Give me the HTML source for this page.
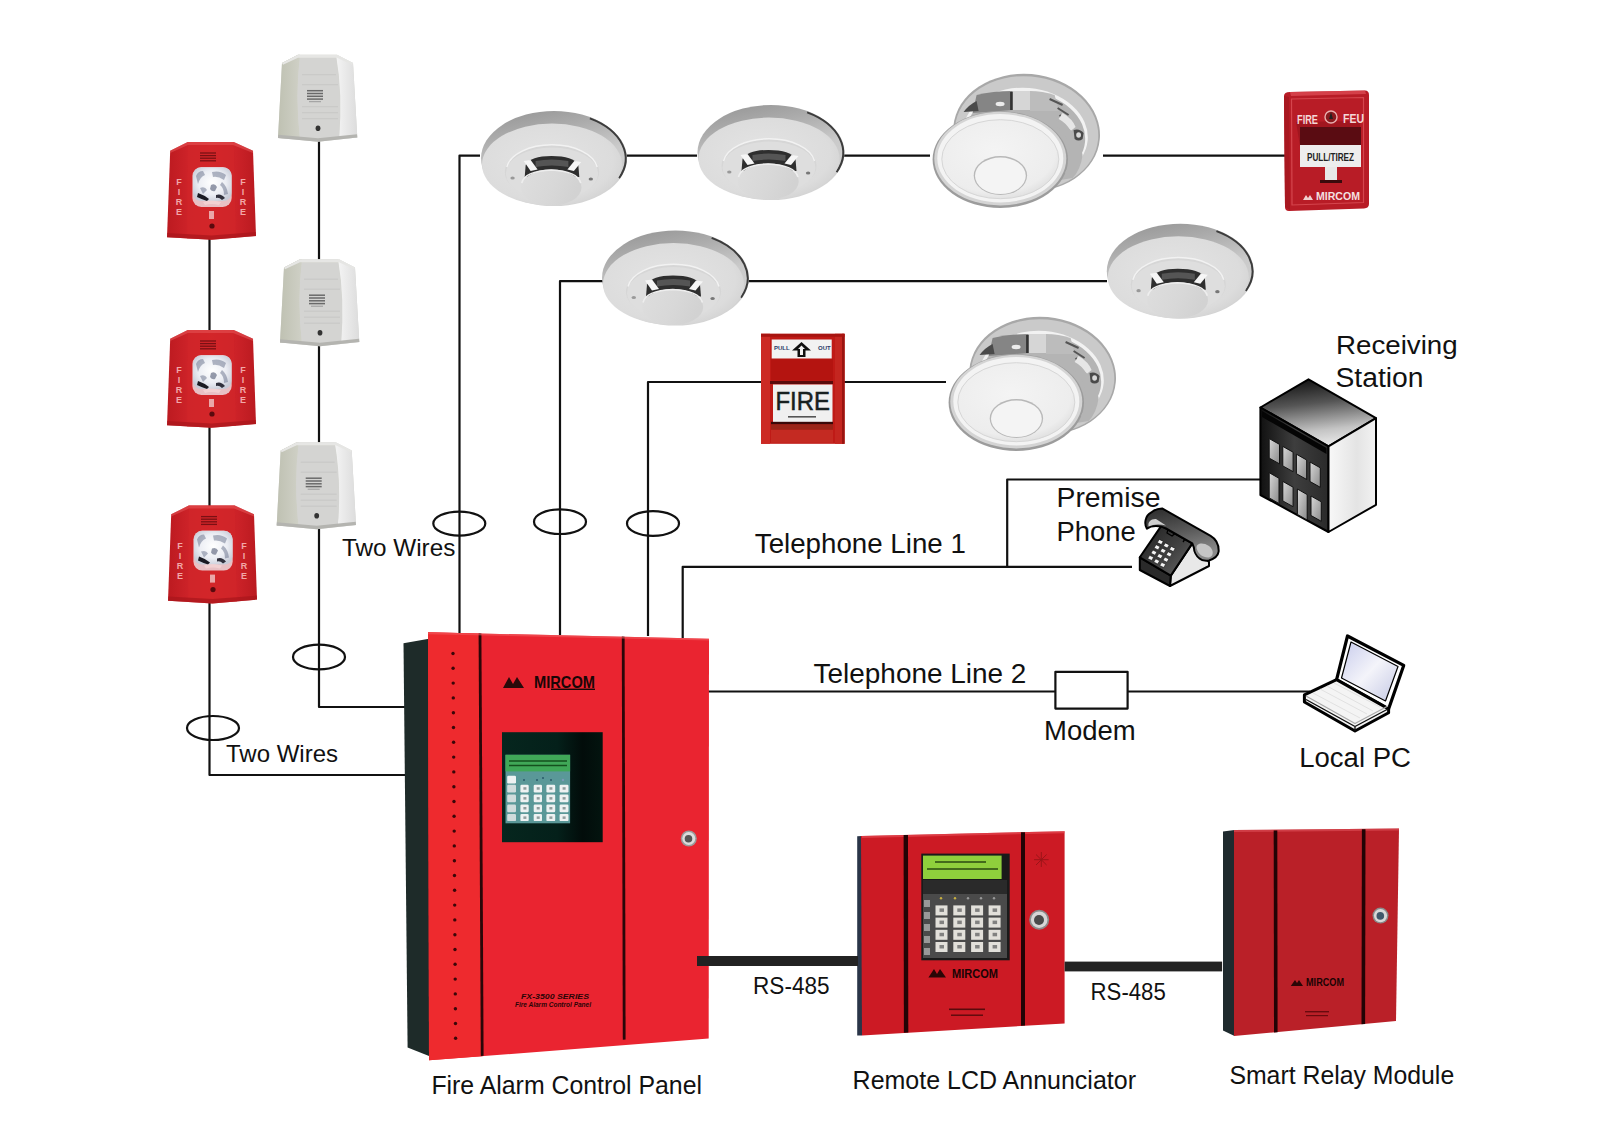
<!DOCTYPE html>
<html><head><meta charset="utf-8"><title>Fire Alarm System</title>
<style>
html,body{margin:0;padding:0;background:#fff;width:1600px;height:1131px;overflow:hidden}
svg{display:block}
text{font-family:"Liberation Sans",sans-serif}
</style></head><body>
<svg width="1600" height="1131" viewBox="0 0 1600 1131">
<defs>
<linearGradient id="gDetRim" x1="0" y1="0" x2="0.3" y2="1">
 <stop offset="0" stop-color="#929292"/><stop offset="0.3" stop-color="#acacac"/><stop offset="0.6" stop-color="#cacaca"/><stop offset="1" stop-color="#d4d4d4"/>
</linearGradient>
<radialGradient id="gDetFace" cx="0.45" cy="0.45" r="0.65">
 <stop offset="0" stop-color="#e4e4e4"/><stop offset="0.75" stop-color="#dcdcdc"/><stop offset="1" stop-color="#cfcfcf"/>
</radialGradient>
<linearGradient id="gDetCap" x1="0" y1="0" x2="1" y2="0.3">
 <stop offset="0" stop-color="#dedede"/><stop offset="0.6" stop-color="#d8d8d8"/><stop offset="1" stop-color="#d2d2d2"/>
</linearGradient>
<g id="detA">
 <ellipse cx="73.5" cy="47.5" rx="73.5" ry="47.5" fill="url(#gDetRim)"/>
 <path d="M109.65 7.4 A72.5 46.5 0 0 1 139 67.1" fill="none" stroke="#3c3c3c" stroke-width="2"/>
 <ellipse cx="71.5" cy="53.6" rx="70.5" ry="41" fill="url(#gDetFace)"/>
 <ellipse cx="71.5" cy="61" rx="47.5" ry="27" fill="#d6d6d6"/>
 <ellipse cx="71.5" cy="62.5" rx="46.5" ry="26" fill="#dedede"/>
 <path d="M26 56 A46 26 0 0 1 117 56" fill="none" stroke="#f2f2f2" stroke-width="1.5"/>
 <path d="M44 66 L45 54 Q50 45 71 45 Q93 45 98 54 L99 66 Z" fill="#2e2e2e"/>
 <path d="M55 50 Q71 47 88 50 L88 56 Q71 53 55 56Z" fill="#555"/>
 <path d="M43 50 L50 49 L57 58.5 L50 60Z" fill="#f6f6f6"/>
 <path d="M101 51 L94 50 L87 58.5 L93.5 60Z" fill="#f6f6f6"/>
 <ellipse cx="70.7" cy="76.5" rx="30.5" ry="18" fill="url(#gDetCap)"/>
 <path d="M41 72 Q44 60 70.7 59 Q97 60 100.5 72" fill="none" stroke="#eeeeee" stroke-width="1.6"/>
 <ellipse cx="31.8" cy="67" rx="2.2" ry="1.6" fill="#999"/>
 <ellipse cx="110.6" cy="68" rx="2.2" ry="1.6" fill="#777"/>
</g>
<radialGradient id="gCover" cx="0.45" cy="0.4" r="0.65">
 <stop offset="0" stop-color="#f4f4f4"/><stop offset="0.8" stop-color="#ededed"/><stop offset="1" stop-color="#dcdcdc"/>
</radialGradient>
<linearGradient id="gPlate" x1="0" y1="0" x2="1" y2="1">
 <stop offset="0" stop-color="#b2b2b2"/><stop offset="1" stop-color="#cfcfcf"/>
</linearGradient>
<g id="detB">
 <g transform="rotate(5 94 57.7)">
 <ellipse cx="94" cy="57.7" rx="73.5" ry="58.8" fill="#a8a8a8"/>
 <ellipse cx="94" cy="58.3" rx="71.8" ry="57" fill="#cacaca"/>
 <ellipse cx="93" cy="60" rx="62.5" ry="47" fill="#f2f2f2"/>
 <ellipse cx="93" cy="61.5" rx="60" ry="45" fill="#b4b4b4"/>
 </g>
 <path d="M44 20 Q60 16 80 16 L80 35 L40 38Z" fill="#858585"/>
 <path d="M31 37 Q36 30 44 26 L46 36Z" fill="#4a4a4a"/>
 <ellipse cx="67.5" cy="29" rx="4.5" ry="2.2" fill="#ececec"/>
 <rect x="77.5" y="17" width="2.5" height="18" fill="#333"/>
 <path d="M80.4 16 L97.4 16 L97.4 35 L80.4 35Z" fill="#d6d6d6"/>
 <path d="M97.4 16 Q110 16 122 20 L126 36 L97.4 36Z" fill="#bcbcbc"/>
 <path d="M117 24 L130 30 M125 33 L136 40 M127 40 L132 45" stroke="#555" stroke-width="2" fill="none"/>
 <path d="M130 38 Q140 44 143 52 L138 56 Q134 48 126 44Z" fill="#e6e6e6"/>
 <path d="M124 45 Q145 55 150 80 Q148 95 140 103 L128 105 Q140 90 136 70 Q132 55 122 50Z" fill="#b4b4b4"/>
 <path d="M141 55 Q147 53 151 58 L150 64 Q146 67 142 64Z" fill="#4a4a4a"/>
 <ellipse cx="146" cy="60" rx="2.4" ry="2.8" fill="#d8d8d8"/>
 <ellipse cx="67.7" cy="84.6" rx="67.7" ry="48.4" fill="#9c9c9c"/>
 <ellipse cx="67.7" cy="83.6" rx="66" ry="46.8" fill="#d4d4d4"/>
 <ellipse cx="67.7" cy="83.2" rx="63" ry="44.2" fill="#f3f3f3"/>
 <ellipse cx="67.7" cy="84.2" rx="58.5" ry="39.5" fill="url(#gCover)" stroke="#d6d6d6" stroke-width="1"/>
 <ellipse cx="67.8" cy="100.5" rx="26.7" ry="19.5" fill="#b8b8b8"/>
 <ellipse cx="67.8" cy="100.8" rx="25.4" ry="18.3" fill="#f4f4f4"/>
</g>
<radialGradient id="gLens" cx="0.5" cy="0.45" r="0.6">
 <stop offset="0" stop-color="#ffffff"/><stop offset="0.6" stop-color="#eceef4"/><stop offset="1" stop-color="#c8ccd8"/>
</radialGradient>
<linearGradient id="gStrobe" x1="0" y1="0" x2="1" y2="0">
 <stop offset="0" stop-color="#bc1a20"/><stop offset="0.22" stop-color="#cc2228"/><stop offset="0.5" stop-color="#d4262a"/><stop offset="0.78" stop-color="#cc2228"/><stop offset="1" stop-color="#ba1a20"/>
</linearGradient>
<g id="strobe">
 <path d="M20.7 0 L66.8 0 L86 8.7 L89 94 L44.5 97.8 L0 95.2 L3.2 8.7Z" fill="url(#gStrobe)"/>
 <path d="M20.7 0 L66.8 0 L69 96 L20 96.5Z" fill="#d2262a" opacity="0.6"/>
 <path d="M3.2 8.7 L20.7 0 L66.8 0 L86 8.7 L86 11 L66 3 L21 3 L3.2 11Z" fill="#e85a5c" opacity="0.5"/>
 <path d="M0 95.2 L44.5 97.8 L89 94 L88.8 90 L44.5 93.5 L0.2 91Z" fill="#a8161b" opacity="0.7"/>
 <g stroke="#7a1014" stroke-width="1.3">
  <line x1="33" y1="11" x2="49" y2="11"/><line x1="33" y1="13.6" x2="49" y2="13.6"/><line x1="33" y1="16.2" x2="49" y2="16.2"/><line x1="33" y1="18.8" x2="49" y2="18.8"/>
 </g>
 <rect x="25.4" y="25" width="39.3" height="40" rx="9" fill="#e8c0c4"/>
 <rect x="26" y="25.5" width="38.5" height="33.5" rx="8" fill="url(#gLens)"/>
 <g fill="#5a6480" opacity="0.45">
  <path d="M29 34 Q31 29 36 29 L38 33 Q33 35 31 42Z"/>
  <path d="M45 30 Q53 28 59 33 L57 38 Q51 34 46 35Z"/>
  <path d="M55 40 Q60 44 61 52 L57 53 Q57 46 53 43Z"/>
  <path d="M33 46 Q38 44 40 48 L36 52Z"/>
 </g>
 <path d="M31 51 Q37 53 42 57 L40 59 Q34 57 30 55Z" fill="#1a1a22"/>
 <path d="M44 43 Q48 41 50 45 L48 49 Q45 50 43 47Z" fill="#6a7088" opacity="0.7"/>
 <path d="M49 53 Q54 51 58 56 L55 58 Q52 55 49 56Z" fill="#30303c"/>
 <path d="M36 60 Q44 57 54 60 L52 63 Q44 61 38 63Z" fill="#f4d4d6" opacity="0.8"/>
 <g fill="#f2a8a8" font-size="9" font-weight="bold" text-anchor="middle" style="font-family:'Liberation Sans',sans-serif">
  <text x="12" y="43">F</text><text x="12" y="53">I</text><text x="12" y="63">R</text><text x="12" y="73">E</text>
  <text x="76" y="43">F</text><text x="76" y="53">I</text><text x="76" y="63">R</text><text x="76" y="73">E</text>
 </g>
 <rect x="42" y="69" width="5" height="8" fill="#f0c8c8" opacity="0.8"/>
 <circle cx="45" cy="84" r="2.6" fill="#5a0a0e"/>
</g>
<linearGradient id="gHornL" x1="0" y1="0" x2="1" y2="0"><stop offset="0" stop-color="#bfc1b2"/><stop offset="1" stop-color="#cfd0c6"/></linearGradient>
<linearGradient id="gHornR" x1="0" y1="0" x2="1" y2="0"><stop offset="0" stop-color="#f4f4f4"/><stop offset="0.5" stop-color="#e8e8e8"/><stop offset="1" stop-color="#dcdcdc"/></linearGradient>
<g id="horn">
 <path d="M20 0 L59 0 L75 8.3 L79.3 82.7 L40 87 L0 83.2 L4 8.3Z" fill="#d4d5d0"/>
 <path d="M4 8.3 L20 0 L22 0 Q17 40 22 84.5 L0 83.2Z" fill="url(#gHornL)"/>
 <path d="M58 0 L75 8.3 L79.3 82.7 L61 84.5 Q65 40 58 0Z" fill="url(#gHornR)"/>
 <path d="M22 3 L58 3 Q64 40 61 84 L22 85 Q17 40 22 3Z" fill="#d4d4d2"/>
 <path d="M4 8.3 L20 0 L59 0 L75 8.3 L74 10 L59 3 L20 3 L5 10Z" fill="#e6e6e4"/>
 <path d="M0 83.2 L40 87 L79.3 82.7 L79 79.5 L40 83.5 L0.2 80Z" fill="#b4b4b0"/>
 <g stroke="#6a6a6a" stroke-width="1.5">
  <line x1="29" y1="36" x2="45" y2="36"/><line x1="29" y1="38.8" x2="45" y2="38.8"/><line x1="29" y1="41.6" x2="45" y2="41.6"/><line x1="29" y1="44.4" x2="45" y2="44.4"/>
 </g>
 <line x1="31" y1="47" x2="43" y2="47" stroke="#9a9a9a" stroke-width="1"/>
 <g stroke="#c4c4c2" stroke-width="0.8"><line x1="24" y1="20" x2="58" y2="20"/><line x1="24" y1="30" x2="60" y2="30"/><line x1="24" y1="52" x2="60" y2="52"/><line x1="24" y1="58" x2="60" y2="58"/><line x1="24" y1="64" x2="60" y2="64"/></g>
 <ellipse cx="40" cy="73.5" rx="2.4" ry="2.8" fill="#333"/>
</g>

</defs>
<rect width="1600" height="1131" fill="#fff"/>
<!-- WIRES -->
<g fill="none" stroke="#111" stroke-width="2.2" stroke-linejoin="round">
<path d="M209.5 239 V775 H405"/>
<path d="M319 141 V707 H405"/>
<path d="M459.5 634 V155.6 H480"/>
<path d="M626 155.6 H697"/>
<path d="M843 155.6 H930"/>
<path d="M1103 155.6 H1285"/>
<path d="M560 635 V281.2 H603"/>
<path d="M748 281.2 H1107"/>
<path d="M648 636 V382 H762"/>
<path d="M843 382 H946"/>
<path d="M682.7 638 V566.8 H1132"/>
<path d="M1007.2 566.8 V479.5 H1262"/>
<path d="M708 691.5 H1055"/>
<path d="M1128 691.5 H1310"/>
<rect x="1055.4" y="671.8" width="72.2" height="36.8"/>
<ellipse cx="213" cy="728" rx="26" ry="12"/>
<ellipse cx="319" cy="657" rx="26" ry="12.3"/>
<ellipse cx="459.3" cy="523.6" rx="26" ry="12"/>
<ellipse cx="560" cy="521.7" rx="26" ry="12.3"/>
<ellipse cx="653" cy="523.5" rx="26" ry="12.3"/>
</g>

<use href="#detA" transform="translate(481 111) scale(0.993 1)"/>
<use href="#detA" transform="translate(697.5 105)"/>
<use href="#detA" transform="translate(602 230.5)"/>
<use href="#detA" transform="translate(1106.8 223.7)"/>
<use href="#detB" transform="translate(932.6 75)"/>
<use href="#detB" transform="translate(948.6 318)"/>
<use href="#strobe" transform="translate(167 142)"/>
<use href="#strobe" transform="translate(167 330)"/>
<use href="#strobe" transform="translate(168 505.6)"/>
<use href="#horn" transform="translate(278 54.7)"/>
<use href="#horn" transform="translate(280 259.2)"/>
<use href="#horn" transform="translate(276.7 442.2)"/>
<!-- FIRE ALARM CONTROL PANEL -->
<g id="facp">
 <path d="M403.5 643.3 L429 638.7 L429 1056 L407.6 1047.6Z" fill="#1e2b29"/>
 <path d="M428 632.3 L709 638.7 L708.7 1038.5 L429 1060.3Z" fill="#ea2430"/>
 <path d="M428 632.3 L480 633.5 L482.5 1056.2 L429 1060.3Z" fill="#ee2a2e"/>
 <path d="M478.6 633.4 L481.4 633.4 L483.6 1055.8 L480.8 1056Z" fill="#2a0608"/>
 <path d="M621.8 636.6 L624.6 636.7 L625.6 1039.6 L622.8 1039.8Z" fill="#2a0608"/>
 <path d="M428 632.3 L709 638.7 L709 640.5 L428 634.2Z" fill="#f25a5e" opacity="0.6"/>
 <g fill="#3a0608">
 <circle cx="453" cy="653.5" r="1.7"/><circle cx="453.1" cy="668.3" r="1.7"/><circle cx="453.2" cy="683.1" r="1.7"/><circle cx="453.3" cy="697.9" r="1.7"/><circle cx="453.4" cy="712.7" r="1.7"/><circle cx="453.5" cy="727.5" r="1.7"/><circle cx="453.6" cy="742.3" r="1.7"/><circle cx="453.7" cy="757.1" r="1.7"/><circle cx="453.8" cy="771.9" r="1.7"/><circle cx="453.9" cy="786.7" r="1.7"/><circle cx="454" cy="801.5" r="1.7"/><circle cx="454.1" cy="816.3" r="1.7"/><circle cx="454.2" cy="831.1" r="1.7"/><circle cx="454.3" cy="845.9" r="1.7"/><circle cx="454.4" cy="860.7" r="1.7"/><circle cx="454.5" cy="875.5" r="1.7"/><circle cx="454.6" cy="890.3" r="1.7"/><circle cx="454.7" cy="905.1" r="1.7"/><circle cx="454.8" cy="919.9" r="1.7"/><circle cx="454.9" cy="934.7" r="1.7"/><circle cx="455" cy="949.5" r="1.7"/><circle cx="455.1" cy="964.3" r="1.7"/><circle cx="455.2" cy="979.1" r="1.7"/><circle cx="455.3" cy="993.9" r="1.7"/><circle cx="455.4" cy="1008.7" r="1.7"/><circle cx="455.5" cy="1023.5" r="1.7"/><circle cx="455.6" cy="1038.3" r="1.7"/>
 </g>
 <!-- logo -->
 <path d="M503 688 L509 677 L513 684 L517 677 L524 688Z" fill="#2a0a0a"/>
 <text x="534" y="688" font-size="17" font-weight="bold" textLength="61" lengthAdjust="spacingAndGlyphs" fill="#1a0606">MIRCOM</text>
 <rect x="551" y="688.6" width="44" height="1.4" fill="#1a0606"/>
 <!-- display -->
 <linearGradient id="gWinP" x1="0" y1="0" x2="1" y2="0"><stop offset="0" stop-color="#06261e"/><stop offset="0.55" stop-color="#04201a"/><stop offset="0.8" stop-color="#020c0a"/><stop offset="1" stop-color="#03140f"/></linearGradient>
 <rect x="502" y="732.2" width="100.7" height="110" fill="url(#gWinP)"/>
 <rect x="505.5" y="754.8" width="64.6" height="68.5" fill="#5a9898"/>
 <rect x="505.5" y="754.8" width="64.6" height="16.6" fill="#40a858"/>
 <g stroke="#15501e" stroke-width="1.6"><line x1="509" y1="761" x2="567" y2="761"/><line x1="509" y1="765.5" x2="567" y2="765.5"/></g>
 <g fill="#eef2f2">
  <rect x="507.2" y="775.8" width="8.8" height="7.7" rx="1.2"/>
  <rect x="520.4" y="784.7" width="8.3" height="7.7" rx="1.2"/><rect x="533.7" y="784.7" width="8.3" height="7.7" rx="1.2"/><rect x="546.4" y="784.7" width="8.8" height="7.7" rx="1.2"/><rect x="559.6" y="784.7" width="8.9" height="7.7" rx="1.2"/>
  <rect x="520.4" y="794.6" width="8.3" height="7.7" rx="1.2"/><rect x="533.7" y="794.6" width="8.3" height="7.7" rx="1.2"/><rect x="546.4" y="794.6" width="8.8" height="7.7" rx="1.2"/><rect x="559.6" y="794.6" width="8.9" height="7.7" rx="1.2"/>
  <rect x="520.4" y="804.5" width="8.3" height="7.7" rx="1.2"/><rect x="533.7" y="804.5" width="8.3" height="7.7" rx="1.2"/><rect x="546.4" y="804.5" width="8.8" height="7.7" rx="1.2"/><rect x="559.6" y="804.5" width="8.9" height="7.7" rx="1.2"/>
  <rect x="520.4" y="813.9" width="8.3" height="7.2" rx="1.2"/><rect x="533.7" y="813.9" width="8.3" height="7.2" rx="1.2"/><rect x="546.4" y="813.9" width="8.8" height="7.2" rx="1.2"/><rect x="559.6" y="813.9" width="8.9" height="7.2" rx="1.2"/>
 </g>
 <g fill="#d0dcdc"><rect x="507.2" y="784.7" width="8.8" height="7.7" rx="1.2"/><rect x="507.2" y="794.6" width="8.8" height="7.7" rx="1.2"/><rect x="507.2" y="804.5" width="8.8" height="7.7" rx="1.2"/><rect x="507.2" y="813.9" width="8.8" height="7.2" rx="1.2"/></g>
 <g fill="#7a8a8a" opacity="0.8"><rect x="523.4" y="787.2" width="3" height="2.5"/><rect x="523.4" y="797.1" width="3" height="2.5"/><rect x="523.4" y="807.0" width="3" height="2.5"/><rect x="523.4" y="816.4" width="3" height="2.5"/><rect x="536.7" y="787.2" width="3" height="2.5"/><rect x="536.7" y="797.1" width="3" height="2.5"/><rect x="536.7" y="807.0" width="3" height="2.5"/><rect x="536.7" y="816.4" width="3" height="2.5"/><rect x="549.4" y="787.2" width="3" height="2.5"/><rect x="549.4" y="797.1" width="3" height="2.5"/><rect x="549.4" y="807.0" width="3" height="2.5"/><rect x="549.4" y="816.4" width="3" height="2.5"/><rect x="562.6" y="787.2" width="3" height="2.5"/><rect x="562.6" y="797.1" width="3" height="2.5"/><rect x="562.6" y="807.0" width="3" height="2.5"/><rect x="562.6" y="816.4" width="3" height="2.5"/></g>
 <g fill="#2a5a6a"><circle cx="524" cy="780" r="1"/><circle cx="537" cy="780" r="1"/><circle cx="543" cy="778" r="1"/><circle cx="551" cy="780" r="1"/><circle cx="563" cy="780" r="1.2" fill="#7a9ab8"/></g>
 <!-- lock -->
 <circle cx="688.8" cy="838.5" r="8" fill="#9a9a9a"/>
 <circle cx="688.8" cy="838.5" r="6.5" fill="#dcdcdc"/>
 <circle cx="688.5" cy="838.8" r="3.8" fill="#555"/>
 <!-- small text -->
 <text x="521" y="998.5" font-size="8" fill="#2a0406" textLength="68" lengthAdjust="spacingAndGlyphs" font-style="italic" font-weight="bold">FX-3500 SERIES</text>
 <text x="515" y="1006.5" font-size="6.5" fill="#2a0406" textLength="76" lengthAdjust="spacingAndGlyphs" font-style="italic" font-weight="bold">Fire Alarm Control Panel</text>
</g>
<!-- REMOTE LCD ANNUNCIATOR -->
<g id="ann">
 <path d="M857.2 836.3 L862 836 L862 1035.4 L857.2 1035.6Z" fill="#2a3548"/>
 <path d="M861 836 L1064.6 831.2 L1064.6 1023.4 L862 1035.4Z" fill="#cc1a24"/>
 <path d="M862 836 L1064.6 831.2 L1064.6 833.2 L862 838Z" fill="#e85058" opacity="0.6"/>
 <path d="M903.6 835 L908 835 L908.3 1032.6 L903.9 1032.8Z" fill="#220305"/>
 <path d="M1021 832.3 L1025 832.2 L1025 1025.6 L1021 1025.8Z" fill="#220305"/>
 <rect x="921.3" y="853.6" width="88.4" height="106.7" fill="#1a1a1a"/>
 <rect x="923" y="855.6" width="78.6" height="23.4" fill="#8fcf3c"/>
 <g stroke="#2a4a10" stroke-width="1.4"><line x1="935" y1="862" x2="986" y2="862"/><line x1="927" y1="869" x2="998" y2="869"/></g>
 <rect x="923" y="880" width="84" height="78" fill="#4a4a4a"/>
 <rect x="923" y="880" width="84" height="14" fill="#2a2a2a"/>
 <g fill="#c8b040"><circle cx="941" cy="898.3" r="1.2"/><circle cx="955" cy="898.3" r="1.2"/></g>
 <g fill="#999"><circle cx="968" cy="898.3" r="1.2"/><circle cx="981" cy="898.3" r="1.2"/><circle cx="994" cy="898.3" r="1.2"/></g>
 <g fill="#e2e0da">
  <rect x="935.5" y="905.4" width="12" height="10"/><rect x="953.3" y="905.4" width="12" height="10"/><rect x="971.1" y="905.4" width="12" height="10"/><rect x="988.6" y="905.4" width="12" height="10"/>
  <rect x="935.5" y="917.6" width="12" height="10"/><rect x="953.3" y="917.6" width="12" height="10"/><rect x="971.1" y="917.6" width="12" height="10"/><rect x="988.6" y="917.6" width="12" height="10"/>
  <rect x="935.5" y="929.8" width="12" height="10"/><rect x="953.3" y="929.8" width="12" height="10"/><rect x="971.1" y="929.8" width="12" height="10"/><rect x="988.6" y="929.8" width="12" height="10"/>
  <rect x="935.5" y="942" width="12" height="10"/><rect x="953.3" y="942" width="12" height="10"/><rect x="971.1" y="942" width="12" height="10"/><rect x="988.6" y="942" width="12" height="10"/>
 </g>
 <g fill="#6a6a6a" opacity="0.8"><rect x="939.5" y="908.4" width="4.5" height="3.5"/><rect x="939.5" y="920.6" width="4.5" height="3.5"/><rect x="939.5" y="932.8" width="4.5" height="3.5"/><rect x="939.5" y="945" width="4.5" height="3.5"/><rect x="957.3" y="908.4" width="4.5" height="3.5"/><rect x="957.3" y="920.6" width="4.5" height="3.5"/><rect x="957.3" y="932.8" width="4.5" height="3.5"/><rect x="957.3" y="945" width="4.5" height="3.5"/><rect x="975.1" y="908.4" width="4.5" height="3.5"/><rect x="975.1" y="920.6" width="4.5" height="3.5"/><rect x="975.1" y="932.8" width="4.5" height="3.5"/><rect x="975.1" y="945" width="4.5" height="3.5"/><rect x="992.6" y="908.4" width="4.5" height="3.5"/><rect x="992.6" y="920.6" width="4.5" height="3.5"/><rect x="992.6" y="932.8" width="4.5" height="3.5"/><rect x="992.6" y="945" width="4.5" height="3.5"/></g>
 <g fill="#999"><rect x="924" y="900" width="6" height="7"/><rect x="924" y="912" width="6" height="7"/><rect x="924" y="924" width="6" height="7"/><rect x="924" y="936" width="6" height="7"/><rect x="924" y="948" width="6" height="7"/></g>
 <!-- asterisk -->
 <g stroke="#9a1418" stroke-width="1"><line x1="1041.3" y1="852" x2="1041.3" y2="867"/><line x1="1034" y1="859.7" x2="1048.6" y2="859.7"/><line x1="1036" y1="854.5" x2="1046.6" y2="865"/><line x1="1046.6" y1="854.5" x2="1036" y2="865"/></g>
 <!-- lock -->
 <circle cx="1039.2" cy="919.7" r="10" fill="#8a8a8a"/>
 <circle cx="1039.2" cy="919.7" r="8.3" fill="#d6d6d6"/>
 <circle cx="1039" cy="920" r="5" fill="#4a4a4a"/>
 <!-- logo -->
 <path d="M928.4 977.6 L934 969 L937 974 L940 969 L946 977.6Z" fill="#2a0606"/>
 <text x="952" y="977.6" font-size="12" font-weight="bold" textLength="46" lengthAdjust="spacingAndGlyphs" fill="#1a0404">MIRCOM</text>
 <g fill="#5a0a0c"><rect x="949" y="1008.5" width="36" height="1.6"/><rect x="951" y="1014.5" width="32" height="1.4"/></g>
</g>
<!-- SMART RELAY MODULE -->
<g id="relay">
 <path d="M1223 831.4 L1234.5 830 L1234.5 1036 L1223 1030.5Z" fill="#1f2a2e"/>
 <path d="M1234 830 L1399 828.6 L1396 1021 L1234 1036Z" fill="#ba2028"/>
 <path d="M1234 830 L1399 828.6 L1399 830.6 L1234 832Z" fill="#e0525a" opacity="0.6"/>
 <path d="M1273.7 830.5 L1277.3 830.5 L1277.6 1032.3 L1274 1032.6Z" fill="#220305"/>
 <path d="M1361.9 829.2 L1365.5 829.2 L1365.1 1024 L1361.5 1024.3Z" fill="#220305"/>
 <circle cx="1380.5" cy="915.6" r="8" fill="#8a8a8a"/>
 <circle cx="1380.5" cy="915.6" r="6.6" fill="#d8d8d8"/>
 <circle cx="1380.3" cy="915.9" r="3.8" fill="#40586a"/>
 <path d="M1290.8 986 L1295 980 L1297 983 L1299 980 L1303 986Z" fill="#2a0606"/>
 <text x="1306" y="986" font-size="10" font-weight="bold" textLength="38" lengthAdjust="spacingAndGlyphs" fill="#1a0404">MIRCOM</text>
 <g fill="#6a0a0e"><rect x="1305" y="1011" width="24" height="1.4"/><rect x="1306" y="1015" width="22" height="1.2"/></g>
</g>
<!-- PULL STATION A (top right) -->
<g id="pullA">
 <path d="M1284 96 Q1284 92 1290 92 L1365 90.5 Q1369 90.5 1369 95 L1369 204 Q1369 208 1364 208.5 L1289 211 Q1285 211 1285 207Z" fill="#b81c26"/>
 <path d="M1284 96 L1289 97 L1290 210 L1285 207Z" fill="#a81820"/>
 <path d="M1290 92 L1365 90.5 L1366 94 L1291 96Z" fill="#e05058" opacity="0.7"/>
 <path d="M1291.5 99 L1363.5 97.5 L1363.5 202.5 L1292 205Z" fill="none" stroke="#dc5058" stroke-width="1.2" opacity="0.8"/>
 <path d="M1296 122 L1360 121 L1361 145 L1300 146Z" fill="#8a1018" opacity="0.5"/>
 <text x="1297" y="124" font-size="13" fill="#f4d8d8" textLength="21" lengthAdjust="spacingAndGlyphs" font-weight="bold">FIRE</text>
 <text x="1343" y="123" font-size="13" fill="#f4d8d8" textLength="21" lengthAdjust="spacingAndGlyphs" font-weight="bold">FEU</text>
 <circle cx="1331" cy="117" r="6" fill="#8a1a1e" stroke="#e8b0b0" stroke-width="1.4"/>
 <path d="M1331 112 L1333 119 L1329 119Z" fill="#222"/>
 <rect x="1300" y="127" width="61" height="18" fill="#5a0c12"/>
 <rect x="1300" y="145" width="61" height="22" fill="#ededed"/>
 <text x="1307" y="161" font-size="11" fill="#222" textLength="47" lengthAdjust="spacingAndGlyphs" font-weight="bold">PULL/TIREZ</text>
 <rect x="1325" y="167" width="12" height="13" fill="#e8e8e8"/>
 <rect x="1320" y="180" width="22" height="3" fill="#3a0a0c"/>
 <path d="M1303 200 L1306 195 L1308 198 L1310 195 L1313 200Z" fill="#f0d0d0"/>
 <text x="1316" y="200" font-size="10" fill="#f4e0e0" textLength="44" lengthAdjust="spacingAndGlyphs" font-weight="bold">MIRCOM</text>
</g>
<!-- PULL STATION B (FIRE) -->
<g id="pullB">
 <rect x="761" y="333.8" width="83.5" height="110" fill="#bf1a16"/>
 <rect x="761" y="333.8" width="9" height="110" fill="#cc2a24"/>
 <rect x="835" y="333.8" width="9.5" height="110" fill="#c42620"/>
 <rect x="842" y="333.8" width="2.5" height="110" fill="#9a1410"/>
 <rect x="761" y="333.8" width="83.5" height="3" fill="#a81410"/>
 <rect x="771.7" y="339.5" width="60" height="19.2" fill="#f2f2f2"/>
 <text x="774" y="350" font-size="6" fill="#2a3a6a" font-weight="bold">PULL</text>
 <text x="818" y="350" font-size="6" fill="#2a3a6a" font-weight="bold">OUT</text>
 <path d="M801.5 342 L811 350.5 L805.5 350.5 L805.5 357 L797.5 357 L797.5 350.5 L792 350.5Z" fill="#111"/>
 <path d="M801.5 345.5 L805 349 L803 349 L803 355 L800 355 L800 349 L798 349Z" fill="#f2f2f2"/>
 <circle cx="802" cy="364" r="1.4" fill="#5a0a0e"/>
 <rect x="771" y="358.7" width="62" height="22" fill="#b41410"/>
 <rect x="770" y="381" width="63" height="3" fill="#5a0a0a"/>
 <rect x="773" y="384.5" width="59.5" height="37.5" fill="#f0f0f0"/>
 <text x="775.5" y="410.4" font-size="25" fill="#182020" textLength="54.5" lengthAdjust="spacingAndGlyphs" stroke="#182020" stroke-width="0.5">FIRE</text>
 <rect x="788" y="416" width="28" height="1.6" fill="#555"/>
 <rect x="771" y="421.8" width="62" height="2.6" fill="#3a0808"/>
 <rect x="771" y="424.4" width="62" height="5.4" fill="#9a2418"/>
 <rect x="771" y="429.8" width="62" height="13" fill="#c42a22"/>
</g>
<!-- BUILDING -->
<linearGradient id="gBTop" x1="0.42" y1="0" x2="0.62" y2="1">
 <stop offset="0" stop-color="#151515"/><stop offset="0.35" stop-color="#555"/><stop offset="0.75" stop-color="#c4c4c4"/><stop offset="1" stop-color="#ececec"/>
</linearGradient>
<linearGradient id="gBLeft" x1="0" y1="0" x2="1" y2="0">
 <stop offset="0" stop-color="#111"/><stop offset="0.5" stop-color="#3e3e3e"/><stop offset="1" stop-color="#2a2a2a"/>
</linearGradient>
<linearGradient id="gBRight" x1="0" y1="0" x2="1" y2="0">
 <stop offset="0" stop-color="#f8f8f8"/><stop offset="0.6" stop-color="#e4e4e4"/><stop offset="1" stop-color="#f2f2f2"/>
</linearGradient>
<linearGradient id="gWin" x1="0" y1="0" x2="1" y2="1">
 <stop offset="0" stop-color="#d8d8d8"/><stop offset="1" stop-color="#8a8a8a"/>
</linearGradient>
<g id="building" stroke="#000" stroke-width="2" stroke-linejoin="round">
 <path d="M1308.5 379.3 L1376 418.2 L1328.5 446.4 L1260.4 407.5Z" fill="url(#gBTop)"/>
 <path d="M1260.4 407.5 L1328.5 446.4 L1328.5 532 L1260.4 495Z" fill="url(#gBLeft)"/>
 <path d="M1328.5 446.4 L1376 418.2 L1376 504.8 L1328.5 532Z" fill="url(#gBRight)"/>
 <path d="M1262 411 L1326.5 448 L1326.5 454 L1262 417Z" fill="#050505" stroke="none"/>
 <g fill="url(#gWin)" stroke="#111" stroke-width="1">
  <path d="M1269.2 438.6 L1279.5 444.4 L1279.5 463.9 L1269.2 458.1Z"/>
  <path d="M1282.8 446.4 L1293.1 452.2 L1293.1 471.7 L1282.8 465.9Z"/>
  <path d="M1296.4 454.2 L1306.7 460 L1306.7 479.5 L1296.4 473.7Z"/>
  <path d="M1310 462 L1320.3 467.8 L1320.3 487.3 L1310 481.5Z"/>
  <path d="M1269.2 472.7 L1279 478.3 L1279 503.5 L1269.2 497.9Z"/>
  <path d="M1282.8 481.4 L1293.1 487.2 L1293.1 506.7 L1282.8 500.9Z"/>
  <path d="M1297.4 489 L1307.2 494.6 L1307.2 520 L1297.4 514.4Z"/>
  <path d="M1311 496 L1321.3 501.8 L1321.3 521.3 L1311 515.5Z"/>
 </g>
</g>
<!-- PHONE -->
<linearGradient id="gPh" x1="0" y1="0" x2="1" y2="1">
 <stop offset="0" stop-color="#1e1e1e"/><stop offset="0.6" stop-color="#444"/><stop offset="1" stop-color="#6a6a6a"/>
</linearGradient>
<linearGradient id="gHand" x1="0" y1="0" x2="0.3" y2="1">
 <stop offset="0" stop-color="#2a2a2a"/><stop offset="0.5" stop-color="#555"/><stop offset="1" stop-color="#8a8a8a"/>
</linearGradient>
<g id="phone" stroke="#000" stroke-width="2" stroke-linejoin="round">
 <path d="M1192.3 543.4 L1209 562 L1209 566 L1170 586 L1170.8 575.6Z" fill="#e8e8e8"/>
 <path d="M1139.8 557.3 L1139.8 570 L1170 586 L1170.8 575.6Z" fill="#2a2a2a"/>
 <path d="M1139.8 557.3 L1161.3 525.9 L1192.3 543.4 L1170.8 575.6Z" fill="url(#gPh)"/>
 <path d="M1161.3 525.9 L1168 529.6 L1167 533 L1172 536 L1175 533.4 L1185 539.2 L1183 542" fill="none" stroke-width="1.3"/>
 <path d="M1146.9 528.6 C1144 524 1145 516 1150.9 512.7 C1154 510 1158 508.4 1162.1 508.4 L1210.6 535.8 C1216 539 1219 545 1218.6 551.7 C1218 556 1214 559 1209 560.5 C1205 561 1201 560 1199.5 558.5 C1196 556 1194 551 1193.9 547.7 L1192.3 543.4 L1166 528.4 C1160 525.5 1152 525 1146.9 528.6Z" fill="url(#gHand)"/>
 <path d="M1148.6 526.5 C1147.5 522 1151 518.6 1156 519 L1166 525.5 C1160 523.8 1153 524 1148.6 526.5Z" fill="#cfcfcf" stroke="none"/>
 <path d="M1196.5 548 C1196 543 1203 542 1209 546 C1214 550 1214 556 1209 557.5 C1203 558 1198 554 1196.5 548Z" fill="#c6c6c6" stroke="none"/>
 <g fill="#f4f4f4" stroke="#111" stroke-width="0.6">
  <path d="M1159.3 539.4 l4 2 l-2 3.2 l-4 -2Z"/><path d="M1165.3 542.9 l4 2 l-2 3.2 l-4 -2Z"/><path d="M1171.3 546.4 l4 2 l-2 3.2 l-4 -2Z"/>
  <path d="M1156.1 544.7 l4 2 l-2 3.2 l-4 -2Z"/><path d="M1162.1 548.2 l4 2 l-2 3.2 l-4 -2Z"/><path d="M1168.1 551.7 l4 2 l-2 3.2 l-4 -2Z"/>
  <path d="M1152.9 550 l4 2 l-2 3.2 l-4 -2Z"/><path d="M1158.9 553.5 l4 2 l-2 3.2 l-4 -2Z"/><path d="M1164.9 557 l4 2 l-2 3.2 l-4 -2Z"/>
  <path d="M1149.7 555.3 l4 2 l-2 3.2 l-4 -2Z"/><path d="M1155.7 558.8 l4 2 l-2 3.2 l-4 -2Z"/><path d="M1161.7 562.3 l4 2 l-2 3.2 l-4 -2Z"/>
 </g>
</g>
<!-- LAPTOP -->
<linearGradient id="gScr" x1="0" y1="0" x2="1" y2="1">
 <stop offset="0" stop-color="#c8ccec"/><stop offset="0.5" stop-color="#f4f4fa"/><stop offset="1" stop-color="#c4c8e4"/>
</linearGradient>
<g id="laptop" stroke="#000" stroke-linejoin="round">
 <path d="M1347.5 636 L1403.7 665.4 L1388.6 709 L1336.6 679.7Z" fill="#fff" stroke-width="3.2"/>
 <path d="M1351 642 L1398 666.5 L1385.5 701 L1341.5 678Z" fill="url(#gScr)" stroke-width="1.2"/>
 <path d="M1304.4 694.9 L1336.6 679.7 L1388.6 709 L1388.6 712.7 L1355 731 L1304.4 702Z" fill="#f4f4f4" stroke-width="3"/>
 <path d="M1306 696 L1355 723.5 L1388 706" fill="none" stroke="#aaa" stroke-width="1.2"/>
 <path d="M1306 699.5 L1355 726.5 L1355 731 M1355 726.5 L1388 709" fill="none" stroke="#111" stroke-width="1.4"/>
 <g stroke="#dcdcdc" stroke-width="0.8" fill="none">
  <path d="M1313 693 L1360 718 M1320 689 L1367 714 M1327 686 L1373 711 M1334 683 L1380 707"/>
 </g>
</g>

<g fill="#222">
<rect x="697" y="956" width="161" height="10"/>
<rect x="1064.6" y="961.6" width="157.5" height="9.8"/>
</g>
<!-- LABELS -->
<g fill="#111">
<text x="342" y="556" font-size="24" textLength="113.3" lengthAdjust="spacingAndGlyphs">Two Wires</text>
<text x="226" y="762" font-size="24" textLength="112" lengthAdjust="spacingAndGlyphs">Two Wires</text>
<text x="754.8" y="553" font-size="27.6" textLength="211" lengthAdjust="spacingAndGlyphs">Telephone Line 1</text>
<text x="813.6" y="683.3" font-size="27.2" textLength="212.8" lengthAdjust="spacingAndGlyphs">Telephone Line 2</text>
<text x="1044" y="739.7" font-size="27" textLength="91.6" lengthAdjust="spacingAndGlyphs">Modem</text>
<text x="1299.2" y="766.8" font-size="27" textLength="111.8" lengthAdjust="spacingAndGlyphs">Local PC</text>
<text x="1336" y="354" font-size="26.5" textLength="121.6" lengthAdjust="spacingAndGlyphs">Receiving</text>
<text x="1335.5" y="387" font-size="26.8" textLength="88.1" lengthAdjust="spacingAndGlyphs">Station</text>
<text x="1056.5" y="507" font-size="27" textLength="104" lengthAdjust="spacingAndGlyphs">Premise</text>
<text x="1056.5" y="540.6" font-size="27" textLength="79.2" lengthAdjust="spacingAndGlyphs">Phone</text>
<text x="431.4" y="1094" font-size="25" textLength="270.6" lengthAdjust="spacingAndGlyphs">Fire Alarm Control Panel</text>
<text x="852.6" y="1089" font-size="26.5" textLength="283.4" lengthAdjust="spacingAndGlyphs">Remote LCD Annunciator</text>
<text x="1229.4" y="1084.3" font-size="26.5" textLength="224.8" lengthAdjust="spacingAndGlyphs">Smart Relay Module</text>
<text x="753" y="994.4" font-size="23.5" textLength="76.6" lengthAdjust="spacingAndGlyphs">RS-485</text>
<text x="1090.6" y="1000" font-size="23" textLength="75.2" lengthAdjust="spacingAndGlyphs">RS-485</text>
</g>
</svg>
</body></html>
